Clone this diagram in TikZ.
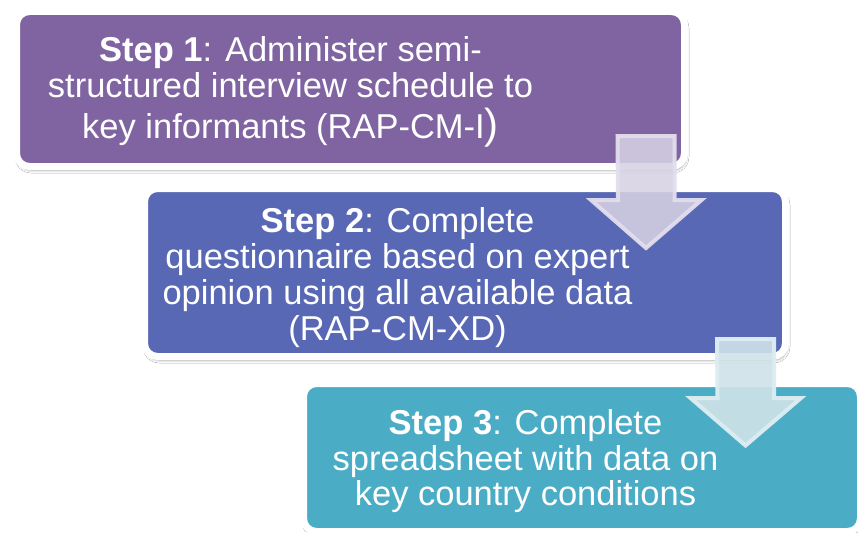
\documentclass[tikz,border=0pt]{standalone}
\usepackage{fontspec}
\setmainfont{Liberation Sans}
\usetikzlibrary{shadows.blur}
\definecolor{cPurple}{RGB}{128,100,162}
\definecolor{cBlue}{RGB}{88,104,180}
\definecolor{cTeal}{RGB}{75,172,198}
\definecolor{aPurpleFill}{RGB}{215,210,228}
\definecolor{aPurpleLine}{RGB}{226,222,237}
\definecolor{aTealFill}{RGB}{207,226,232}
\definecolor{aTealLine}{RGB}{220,237,242}
\begin{document}
\begin{tikzpicture}[x=1pt,y=-1pt,
  stepbox/.style={draw=white, line width=7pt, rounded corners=13pt, inner sep=0pt,
    blur shadow={shadow xshift=1.5pt, shadow yshift=-3.5pt, shadow blur radius=3pt, shadow opacity=40}},
  steptext/.style={text=white, inner sep=0pt, anchor=base, font=\fontsize{34.5}{35.5}\selectfont},
  purplearrow/.style={fill=aPurpleFill, fill opacity=0.87, draw=aPurpleLine, draw opacity=0.95, line width=4pt, line join=miter},
  tealarrow/.style={fill=aTealFill, fill opacity=0.91, draw=aTealLine, draw opacity=0.97, line width=4pt, line join=miter}
]
\useasboundingbox (0,0) rectangle (858,532);
\fill[white] (0,0) rectangle (858,532);

% boxes
\node[stepbox, fill=cPurple, minimum width=668pt, minimum height=155pt] (s1) at (350.5,89) {};
\node[stepbox, fill=cBlue, minimum width=641pt, minimum height=168pt] (s2) at (465,272.5) {};
\node[stepbox, fill=cTeal, minimum width=557pt, minimum height=148pt] (s3) at (582,457.5) {};

% texts
\node[steptext] (t1) at (290.5,61.5) {\begin{tabular}[t]{@{}c@{}}\textbf{Step 1}: Administer semi-\\structured interview schedule to\\key informants (RAP-CM-I{\fontsize{42}{42}\selectfont)}\end{tabular}};
\node[steptext, font=\fontsize{34.5}{36}\selectfont] (t2) at (397.5,232) {\begin{tabular}[t]{@{}c@{}}\textbf{Step 2}: Complete\\questionnaire based on expert\\opinion using all available data\\(RAP-CM-XD)\end{tabular}};
\node[steptext] (t3) at (525.5,434.5) {\begin{tabular}[t]{@{}c@{}}\textbf{Step 3}: Complete\\spreadsheet with data on\\key country conditions\end{tabular}};

% block arrows
\coordinate (a1) at (646,136);
\coordinate (a2) at (745.5,339);
\draw[purplearrow] (a1) ++(-28.5,0) -- ++(57,0) -- ++(0,64) -- ++(27,0) -- (646,248) -- (591,200) -- ++(27,0) -- cycle;
\draw[tealarrow] (a2) ++(-28.5,0) -- ++(57,0) -- ++(0,59) -- ++(27,0) -- (745.5,445.5) -- (690.5,398) -- ++(27,0) -- cycle;
\end{tikzpicture}
\end{document}
